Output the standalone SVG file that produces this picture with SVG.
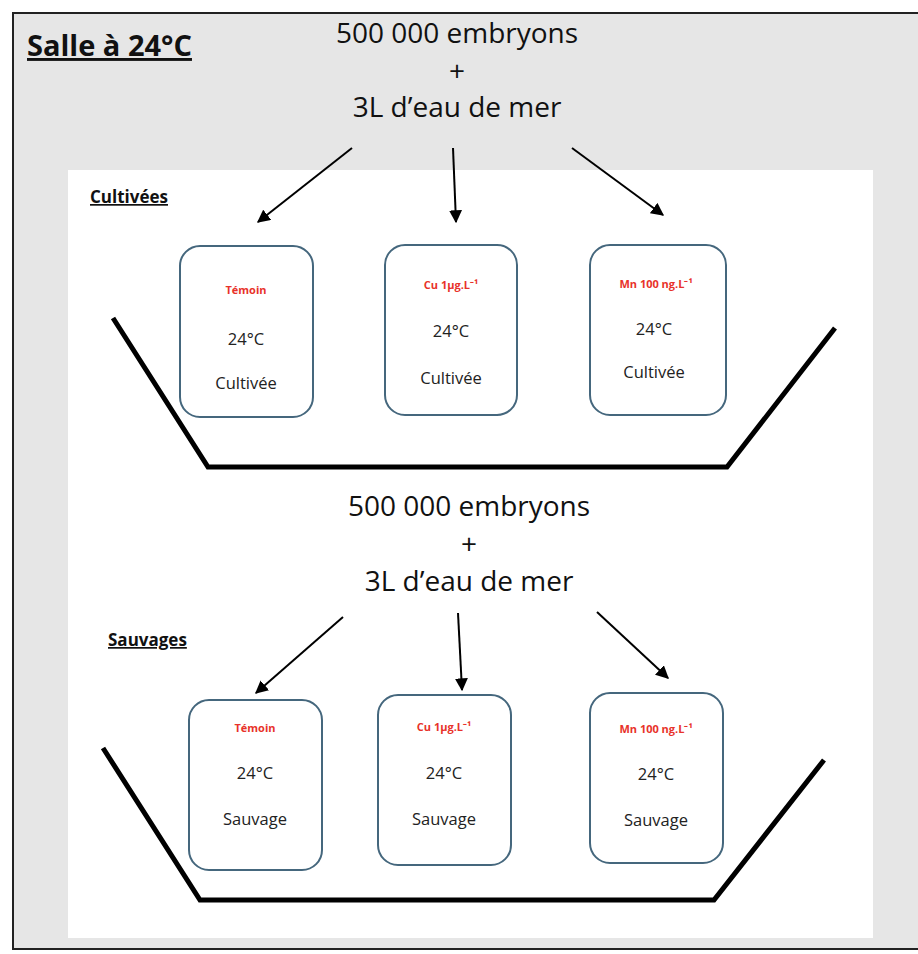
<svg xmlns="http://www.w3.org/2000/svg" width="918" height="954" viewBox="0 0 918 954">
<defs>
<marker id="ah" viewBox="0 0 10 10" refX="9" refY="5" markerWidth="6.5" markerHeight="6.5" orient="auto-start-reverse" markerUnits="strokeWidth">
<path d="M0,0 L10,5 L0,10 z" fill="#000"/>
</marker>
<style>
.big{font-family:"Open Sans","Liberation Sans",sans-serif;font-size:28px;fill:#111;text-anchor:middle}
.sec{font-family:"Open Sans","Liberation Sans",sans-serif;font-size:17px;font-weight:bold;fill:#111;text-decoration:underline}
.box{fill:#fff;stroke:#45677d;stroke-width:2}
.red{font-family:"Open Sans","Liberation Sans",sans-serif;font-size:11px;font-weight:bold;fill:#e8322a;text-anchor:middle}
.lbl{font-family:"Open Sans","Liberation Sans",sans-serif;font-size:16.5px;fill:#222;text-anchor:middle}
.arr{stroke:#000;stroke-width:2;fill:none;marker-end:url(#ah)}
.tray{stroke:#000;stroke-width:5;fill:none;stroke-linejoin:miter}
</style>
</defs>
<rect x="0" y="0" width="918" height="954" fill="#fff"/>
<rect x="13" y="13" width="915" height="936" fill="#e6e6e6" stroke="#222" stroke-width="2"/>
<rect x="68" y="170" width="805" height="768" fill="#fff"/>
<text x="27" y="56" font-family="Open Sans, Liberation Sans, sans-serif" font-size="29" font-weight="bold" fill="#111" text-decoration="underline">Salle à 24°C</text>

<g id="source1">
<text class="big" x="457" y="43">500 000 embryons</text>
<text class="big" x="457" y="81">+</text>
<text class="big" x="457" y="117">3L d’eau de mer</text>
</g>
<g id="source2">
<text class="big" x="469" y="516">500 000 embryons</text>
<text class="big" x="469" y="554">+</text>
<text class="big" x="469" y="591">3L d’eau de mer</text>
</g>
<text class="sec" x="90" y="203">Cultivées</text>
<text class="sec" x="108" y="646">Sauvages</text>

<g id="trays">
<polyline class="tray" points="113,318 208,467 727,467 835,328"/>
<polyline class="tray" points="103,748 200,900 714,900 824,760"/>
</g>

<g id="c-temoin">
<rect class="box" x="180" y="246" width="133" height="171" rx="20"/>
<text class="red" x="246" y="294">Témoin</text>
<text class="lbl" x="246" y="345">24°C</text>
<text class="lbl" x="246" y="389">Cultivée</text>
</g>
<g id="c-cu">
<rect class="box" x="385" y="245" width="132" height="170" rx="20"/>
<text class="red" x="451" y="289">Cu 1µg.L⁻¹</text>
<text class="lbl" x="451" y="337">24°C</text>
<text class="lbl" x="451" y="384">Cultivée</text>
</g>
<g id="c-mn">
<rect class="box" x="590" y="245" width="136" height="170" rx="20"/>
<text class="red" x="656" y="288">Mn 100 ng.L⁻¹</text>
<text class="lbl" x="654" y="335">24°C</text>
<text class="lbl" x="654" y="378">Cultivée</text>
</g>
<g id="s-temoin">
<rect class="box" x="189" y="700" width="133" height="170" rx="20"/>
<text class="red" x="255" y="732">Témoin</text>
<text class="lbl" x="255" y="779">24°C</text>
<text class="lbl" x="255" y="825">Sauvage</text>
</g>
<g id="s-cu">
<rect class="box" x="378" y="695" width="133" height="170" rx="20"/>
<text class="red" x="444" y="731">Cu 1µg.L⁻¹</text>
<text class="lbl" x="444" y="779">24°C</text>
<text class="lbl" x="444" y="825">Sauvage</text>
</g>
<g id="s-mn">
<rect class="box" x="590" y="693" width="133" height="170" rx="20"/>
<text class="red" x="656" y="733">Mn 100 ng.L⁻¹</text>
<text class="lbl" x="656" y="780">24°C</text>
<text class="lbl" x="656" y="826">Sauvage</text>
</g>

<g id="connectors">
<line class="arr" x1="352" y1="148" x2="258" y2="222"/>
<line class="arr" x1="453" y1="148" x2="456" y2="222"/>
<line class="arr" x1="572" y1="148" x2="663" y2="215"/>
<line class="arr" x1="343" y1="617" x2="256" y2="693"/>
<line class="arr" x1="458" y1="613" x2="462" y2="690"/>
<line class="arr" x1="597" y1="612" x2="668" y2="678"/>
</g>
</svg>
